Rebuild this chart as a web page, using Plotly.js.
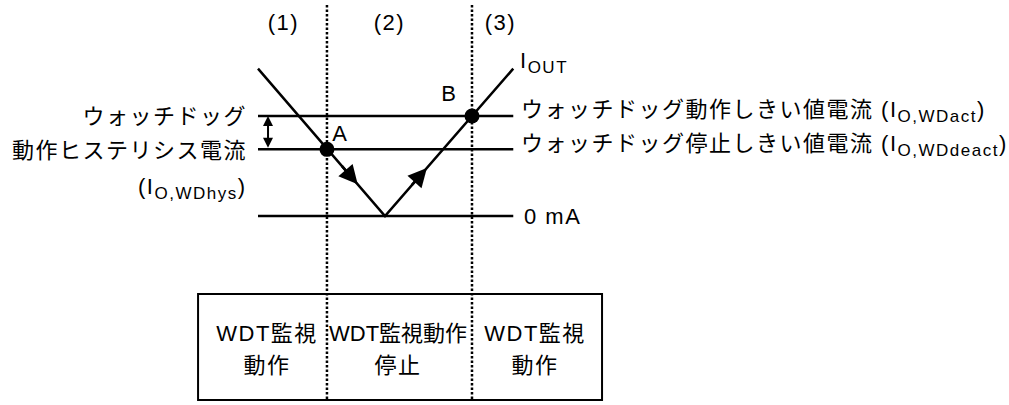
<!DOCTYPE html>
<html>
<head>
<meta charset="utf-8">
<script src="https://cdn.plot.ly/plotly-3.0.1.min.js"></script>
<style>
  html, body { margin: 0; padding: 0; background: #fff; }
  #chart { width: 1009px; height: 405px; }
</style>
</head>
<body>
<div id="chart"></div>
<script>
// time axis (arbitrary units) and output current I_OUT (arbitrary units)
const ioutTime = [0, 10, 20.1];
const ioutValue = [4.42, 0, 4.42];

// threshold levels
const levelNames = ['act', 'deact', 'zero'];
const levelValue = [3.0, 2.0, 0];
const levelTime = [0, 20.1];

// phase boundaries (1)|(2)|(3)
const phaseBoundary = [5.43, 16.85];
const phaseLabels = ['(1)', '(2)', '(3)'];

// crossing points A and B
const pointLabels = ['A', 'B'];
const pointTime = [5.43, 16.85];
const pointValue = [2.0, 3.0];

// WDT state table
const stateLine1 = ['WDT監視', 'WDT監視動作', 'WDT監視'];
const stateLine2 = ['動作', '停止', '動作'];

const FONT = 'Liberation Sans, Arial, "Noto Sans CJK JP", sans-serif';
const black = '#000';
const sub = s => '<sub><span style="font-size:17px">' + s + '</span></sub>';

const traces = [];

// dotted phase boundaries
phaseBoundary.forEach(t => {
  traces.push({
    x: [t, t], y: [6.33, -5.52],
    type: 'scatter', mode: 'lines',
    line: { color: black, width: 2.5, dash: '2.5px,2px' },
    hoverinfo: 'skip'
  });
});

// threshold lines
levelValue.forEach(v => {
  traces.push({
    x: levelTime, y: [v, v],
    type: 'scatter', mode: 'lines',
    line: { color: black, width: 2.5 },
    hoverinfo: 'skip'
  });
});

// I_OUT
traces.push({
  x: ioutTime, y: ioutValue,
  type: 'scatter', mode: 'lines',
  line: { color: black, width: 2.5 },
  hoverinfo: 'skip'
});

// points A, B
traces.push({
  x: pointTime, y: pointValue,
  type: 'scatter', mode: 'markers',
  marker: { color: black, size: 15 },
  hoverinfo: 'skip'
});

const txt = (text, x, y, opts) => Object.assign({
  text: text, x: x, y: y, xref: 'x', yref: 'y',
  showarrow: false, font: { family: FONT, size: 22, color: black }
}, opts || {});
const leftAt = { xanchor: 'left', align: 'left' };
const rightAt = { xanchor: 'right', align: 'right' };

const annotations = [
  // phase labels
  txt(phaseLabels[0], 1.97, 5.82),
  txt(phaseLabels[1], 10.39, 5.82),
  txt(phaseLabels[2], 19.06, 5.82),
  // point labels
  txt(pointLabels[0], 6.46, 2.49),
  txt(pointLabels[1], 15.1, 3.69),
  // I_OUT
  txt('I' + sub('OUT'), 20.5, 4.62, leftAt),
  // right labels
  txt('ウォッチドッグ動作しきい値電流 (I' + sub('O,WDact') + ')', 20.55, 3.13, leftAt),
  txt('ウォッチドッグ停止しきい値電流 (I' + sub('O,WDdeact') + ')', 20.55, 2.11, leftAt),
  txt('0 mA', 20.8, -0.02, leftAt),
  // left labels
  txt('ウォッチドッグ', -0.7, 2.98, rightAt),
  txt('動作ヒステリシス電流', -0.7, 1.98, rightAt),
  txt('(I' + sub('O,WDhys') + ')', -0.7, 0.84, rightAt),
  // direction arrows on I_OUT
  { x: 7.85, y: 0.95, ax: 6.5, ay: 1.55, xref: 'x', yref: 'y', axref: 'x', ayref: 'y',
    text: '', showarrow: true, arrowhead: 2, arrowsize: 1.5, arrowwidth: 2.5, arrowcolor: black, standoff: 0 },
  { x: 13.3, y: 1.44, ax: 12.0, ay: 0.88, xref: 'x', yref: 'y', axref: 'x', ayref: 'y',
    text: '', showarrow: true, arrowhead: 2, arrowsize: 1.5, arrowwidth: 2.5, arrowcolor: black, standoff: 0 },
  // hysteresis double arrow
  { x: 0.79, y: levelValue[0], ax: 0.79, ay: levelValue[1], xref: 'x', yref: 'y', axref: 'x', ayref: 'y',
    text: '', showarrow: true, arrowhead: 2, startarrowhead: 2, arrowside: 'end+start',
    arrowsize: 1, startarrowsize: 1, arrowwidth: 2, arrowcolor: black, standoff: 0, startstandoff: 0 }
];

// state table text
const colCenter = [0.71, 11.02, 21.81];
const tableStart = annotations.length;
stateLine1.forEach((s, i) => annotations.push(txt(s, colCenter[i], -3.51)));
stateLine2.forEach((s, i) => annotations.push(txt(s, colCenter[i], -4.47)));

const layout = {
  width: 1009, height: 405,
  margin: { l: 0, r: 0, t: 0, b: 0 },
  showlegend: false,
  plot_bgcolor: '#fff', paper_bgcolor: '#fff',
  xaxis: { range: [-20.315, 59.134], visible: false, fixedrange: true },
  yaxis: { range: [-5.67, 6.48], visible: false, fixedrange: true },
  shapes: [
    { type: 'rect', xref: 'x', yref: 'y', x0: -4.72, x1: 27.09, y0: -2.34, y1: -5.52,
      line: { color: black, width: 2 }, layer: 'below' }
  ],
  annotations: annotations
};

Plotly.newPlot('chart', traces, layout, { staticPlot: true, displayModeBar: false }).then(() => {
  // the original text is set with a little extra character spacing
  document.querySelectorAll('#chart .annotation-text').forEach(t => {
    t.style.letterSpacing = '1.5px';
  });
  // the middle table cell is tight between the dotted lines
  const mid = document.querySelector('#chart .annotation[data-index="' + (tableStart + 1) + '"] .annotation-text');
  if (mid) mid.style.letterSpacing = '0px';
});
</script>
</body>
</html>
